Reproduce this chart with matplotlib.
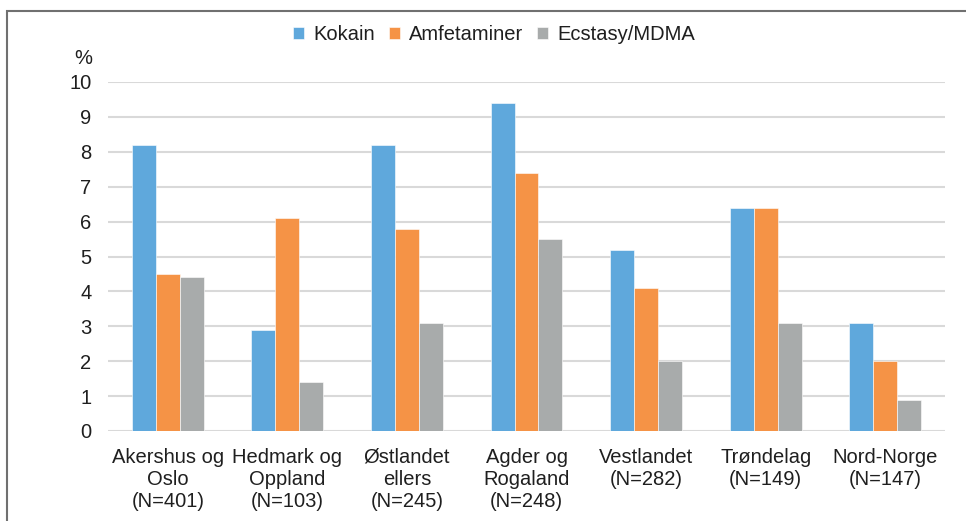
import matplotlib
matplotlib.use("Agg")
import matplotlib.pyplot as plt
import numpy as np
from matplotlib.patches import Rectangle

plt.rcParams['font.family'] = ['Liberation Sans', 'DejaVu Sans']

categories = ["Akershus og\nOslo\n(N=401)", "Hedmark og\nOppland\n(N=103)", "Østlandet\nellers\n(N=245)",
              "Agder og\nRogaland\n(N=248)", "Vestlandet\n(N=282)", "Trøndelag\n(N=149)", "Nord-Norge\n(N=147)"]
series_names = ["Kokain", "Amfetaminer", "Ecstasy/MDMA"]
kokain = [8.2, 2.9, 8.2, 9.4, 5.2, 6.4, 3.1]
amfetaminer = [4.5, 6.1, 5.8, 7.4, 4.1, 6.4, 2.0]
ecstasy = [4.4, 1.4, 3.1, 5.5, 2.0, 3.1, 0.9]
yticks = list(range(0, 11))

colors = ["#5fa8dc", "#f59346", "#a8abab"]
text_color = "#1f1f1f"
fs = 14.5

fig = plt.figure(figsize=(9.66, 5.21), dpi=100)
ax = fig.add_axes([108/966, 1-431/521, (945-108)/966, (431-82)/521])

x = np.arange(len(categories))
w = 0.2
for i, (vals, name) in enumerate(zip([kokain, amfetaminer, ecstasy], series_names)):
    ax.bar(x + (i-1)*w, vals, w, color=colors[i], label=name, zorder=3,
           edgecolor='white', linewidth=0.4)

ax.set_ylim(0, 10)
ax.set_xlim(-0.5, len(categories)-0.5)
ax.set_yticks(yticks)
ax.set_yticklabels([str(t) for t in yticks], fontsize=fs, color=text_color)
ax.set_xticks(x)
ax.set_xticklabels(categories, fontsize=fs, color=text_color, linespacing=1.2)
ax.tick_params(axis='both', length=0)
ax.tick_params(axis='y', pad=12)
ax.tick_params(axis='x', pad=12)
ax.grid(axis='y', color='#d9d9d9', linewidth=1.5, zorder=0)
for s in ax.spines.values():
    s.set_visible(False)

fig.text(92/966, 1-59/521, "%", fontsize=fs, color=text_color, ha='right', va='center')

leg = fig.legend(loc='center', bbox_to_anchor=(494/966, 1-35/521), ncol=3, frameon=False,
                 fontsize=fs, handlelength=0.55, handleheight=0.55, handletextpad=0.45,
                 columnspacing=0.7)
for t in leg.get_texts():
    t.set_color(text_color)

fig.patches.append(Rectangle((7/966, -0.1), 1.1, 1.1 - 11/521, transform=fig.transFigure,
                             fill=False, edgecolor='#707070', linewidth=1.5, figure=fig))

fig.savefig("out.png", dpi=100)
